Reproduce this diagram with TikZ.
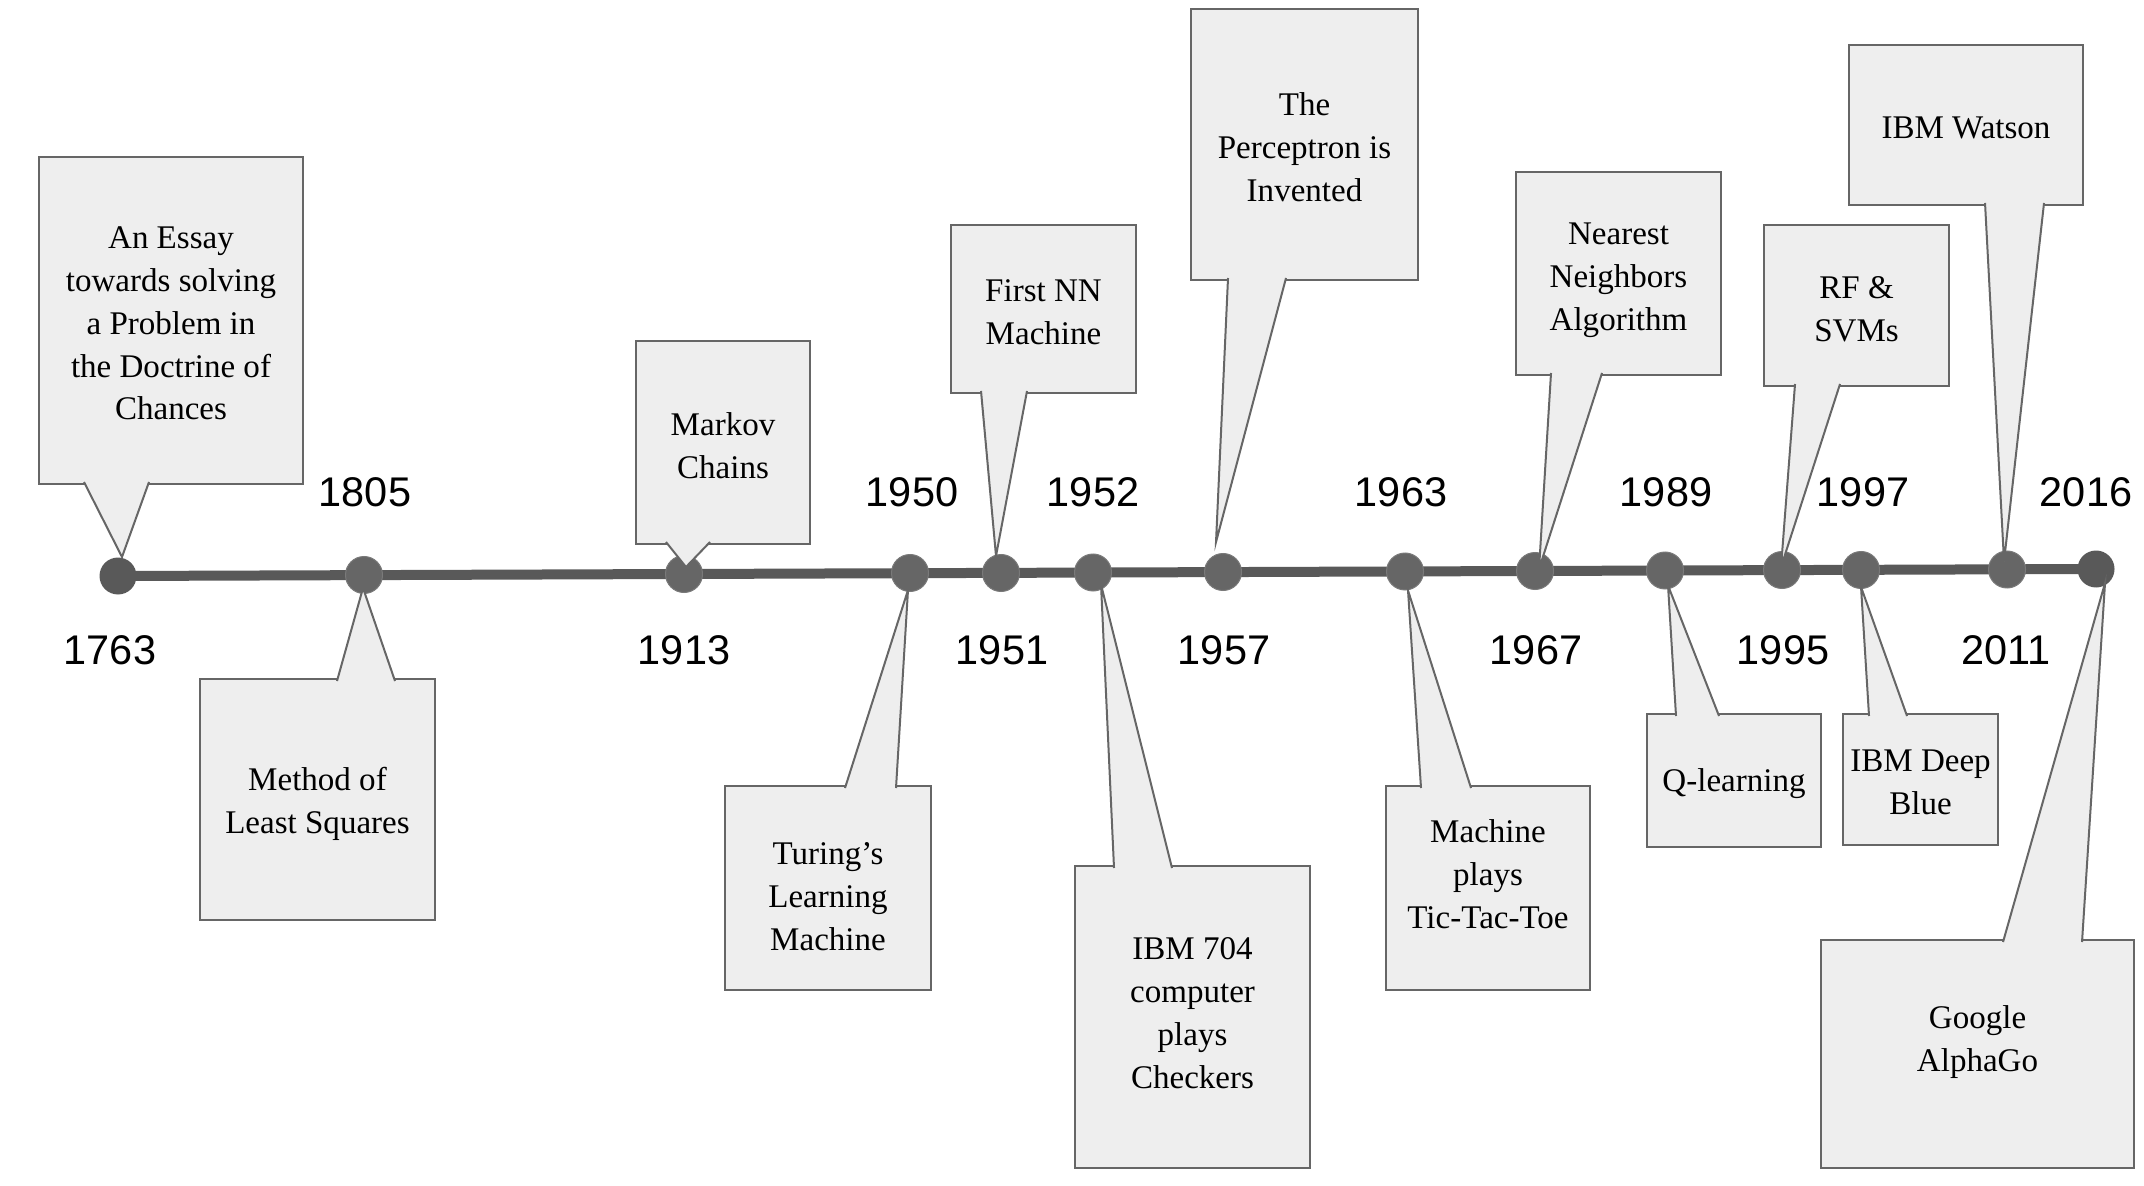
\documentclass[tikz,border=0pt]{standalone}
\usepackage{fontspec}
\setmainfont{Liberation Serif}
\newfontfamily\yearfont{Liberation Sans}
\usetikzlibrary{calc}

\definecolor{boxfill}{HTML}{EEEEEE}
\definecolor{edgegray}{HTML}{666666}
\definecolor{linegray}{HTML}{595959}
\definecolor{dotgray}{HTML}{666666}
\definecolor{dotedge}{HTML}{7A7A7A}

\tikzset{
  event/.style = {draw = edgegray, fill = boxfill, line width = 0.2mm, inner sep = 0pt},
  eventtext/.style = {align = center, inner sep = 0pt, font = \fontsize{9.4}{12.2}\selectfont},
  tail/.style = {draw = edgegray, fill = boxfill, line width = 0.2mm},
  dot/.style = {circle, fill = dotgray, draw = dotedge, line width = 0.1mm,
    minimum size = 3.7mm, inner sep = 0pt},
  enddot/.style = {dot, fill = linegray, draw = none},
  year/.style = {font = \yearfont\fontsize{11.8}{14}\selectfont},
  timeline/.style = {draw = linegray, line width = 1mm}
}

\begin{document}
\begin{tikzpicture}[x = 0.1mm, y = -0.1mm]
\useasboundingbox (0, 0) rectangle (2144, 1186);
\coordinate (start) at (118, 576);
\coordinate (end) at (2096, 569);
\draw [timeline] (start) -- (end);

\node [enddot] (d1763) at (start) {};
\node [dot] (d1805) at (364, 575) {};
\node [dot] (d1913) at (684, 574) {};
\node [dot] (d1950) at (910, 573) {};
\node [dot] (d1951) at (1001, 573) {};
\node [dot] (d1952) at (1093, 572.5) {};
\node [dot] (d1957) at (1223, 572) {};
\node [dot] (d1963) at (1405, 571.5) {};
\node [dot] (d1967) at (1535, 571) {};
\node [dot] (d1989) at (1665, 570.5) {};
\node [dot] (d1995) at (1782, 570) {};
\node [dot] (d1997) at (1861, 570) {};
\node [dot] (d2011) at (2007, 569.5) {};
\node [enddot] (d2016) at (end) {};

\node [year] (y1805) at (365, 492) {1805};
\node [year] (y1950) at (912, 492) {1950};
\node [year] (y1952) at (1093, 492) {1952};
\node [year] (y1963) at (1401, 492) {1963};
\node [year] (y1989) at (1666, 492) {1989};
\node [year] (y1997) at (1863, 492) {1997};
\node [year] (y2016) at (2086, 492) {2016};
\node [year] (y1763) at (110, 650) {1763};
\node [year] (y1913) at (684, 650) {1913};
\node [year] (y1951) at (1002, 650) {1951};
\node [year] (y1957) at (1224, 650) {1957};
\node [year] (y1967) at (1536, 650) {1967};
\node [year] (y1995) at (1783, 650) {1995};
\node [year] (y2011) at (2006, 650) {2011};

% callouts above the line
\node [event, minimum width = 26.4mm, minimum height = 32.7mm] (essay) at (171, 320.5) {};
\node [eventtext] (essay-text) at ($(essay) + (0, 3)$)
  {An Essay\\towards solving\\a Problem in\\the Doctrine of\\Chances};
\filldraw [tail] (84, 482) -- ($(d1763) + (4, -19)$) -- (149, 482);
\node [event, minimum width = 17.4mm, minimum height = 20.3mm] (markov) at (723, 442.5) {};
\node [eventtext] (markov-text) at ($(markov) + (0, 3)$) {Markov\\Chains};
\filldraw [tail] (666, 542) -- ($(d1913) + (2, -7)$) -- (710, 542);
\node [event, minimum width = 18.5mm, minimum height = 16.8mm] (firstnn) at (1043.5, 309) {};
\node [eventtext] (firstnn-text) at ($(firstnn) + (0, 3)$) {First NN\\Machine};
\filldraw [tail] (981, 391) -- ($(d1951) + (-5, -17)$) -- (1027, 391);
\node [event, minimum width = 22.7mm, minimum height = 27.1mm] (perceptron) at (1304.5, 144.5) {};
\node [eventtext] (perceptron-text) at ($(perceptron) + (0, 3)$) {The\\Perceptron is\\Invented};
\filldraw [tail] (1228, 278) -- ($(d1957) + (-7, -30)$) -- (1286, 278);
\node [event, minimum width = 20.5mm, minimum height = 20.3mm] (nearest) at (1618.5, 273.5) {};
\node [eventtext] (nearest-text) at ($(nearest) + (0, 7)$) {Nearest\\Neighbors\\Algorithm};
\filldraw [tail] (1551, 373) -- ($(d1967) + (4, -2)$) -- (1602, 373);
\node [event, minimum width = 18.5mm, minimum height = 16.1mm] (rfsvm) at (1856.5, 305.5) {};
\node [eventtext] (rfsvm-text) at ($(rfsvm) + (0, 4)$) {RF \&\\SVMs};
\filldraw [tail] (1795, 384) -- ($(d1995) + (-1, -3)$) -- (1840, 384);
\node [event, minimum width = 23.4mm, minimum height = 16mm] (watson) at (1966, 125) {};
\node [eventtext] (watson-text) at ($(watson) + (0, 3)$) {IBM Watson};
\filldraw [tail] (1985, 203) -- ($(d2011) + (-3, -8)$) -- (2044, 203);

% callouts below the line
\node [event, minimum width = 23.5mm, minimum height = 24.1mm] (lsq) at (317.5, 799.5) {};
\node [eventtext] (lsq-text) at ($(lsq) + (0, 4)$) {Method of\\Least Squares};
\filldraw [tail] (337, 681) -- ($(d1805) + (-1, 13)$) -- (395, 681);
\node [event, minimum width = 20.6mm, minimum height = 20.4mm] (turing) at (828, 888) {};
\node [eventtext] (turing-text) at ($(turing) + (0, 9)$) {Turing’s\\Learning\\Machine};
\filldraw [tail] (845, 788) -- ($(d1950) + (-2, 17)$) -- (896, 788);
\node [event, minimum width = 23.5mm, minimum height = 30.2mm] (ibm704) at (1192.5, 1017) {};
\node [eventtext] (ibm704-text) at ($(ibm704) + (0, -4)$) {IBM 704\\computer\\plays\\Checkers};
\filldraw [tail] (1114, 868) -- ($(d1952) + (8, 12)$) -- (1172, 868);
\node [event, minimum width = 20.4mm, minimum height = 20.4mm] (tictactoe) at (1488, 888) {};
\node [eventtext] (tictactoe-text) at ($(tictactoe) + (0, -14)$) {Machine\\plays\\Tic-Tac-Toe};
\filldraw [tail] (1421, 788) -- ($(d1963) + (3, 19)$) -- (1471, 788);
\node [event, minimum width = 17.4mm, minimum height = 13.3mm] (qlearn) at (1734, 780.5) {};
\node [eventtext] (qlearn-text) at ($(qlearn) + (0, 3)$) {Q-learning};
\filldraw [tail] (1676, 716) -- ($(d1989) + (3, 15)$) -- (1719, 716);
\node [event, minimum width = 15.5mm, minimum height = 13.1mm] (deepblue) at (1920.5, 779.5) {};
\node [eventtext] (deepblue-text) at ($(deepblue) + (0, 3)$) {IBM Deep\\Blue};
\filldraw [tail] (1869, 716) -- ($(d1997) + (0, 17)$) -- (1907, 716);
\node [event, minimum width = 31.3mm, minimum height = 22.8mm] (alphago) at (1977.5, 1054) {};
\node [eventtext] (alphago-text) at ($(alphago) + (0, -12)$) {Google\\AlphaGo};
\filldraw [tail] (2003, 942) -- ($(d2016) + (9, 14)$) -- (2082, 942);
\end{tikzpicture}
\end{document}
